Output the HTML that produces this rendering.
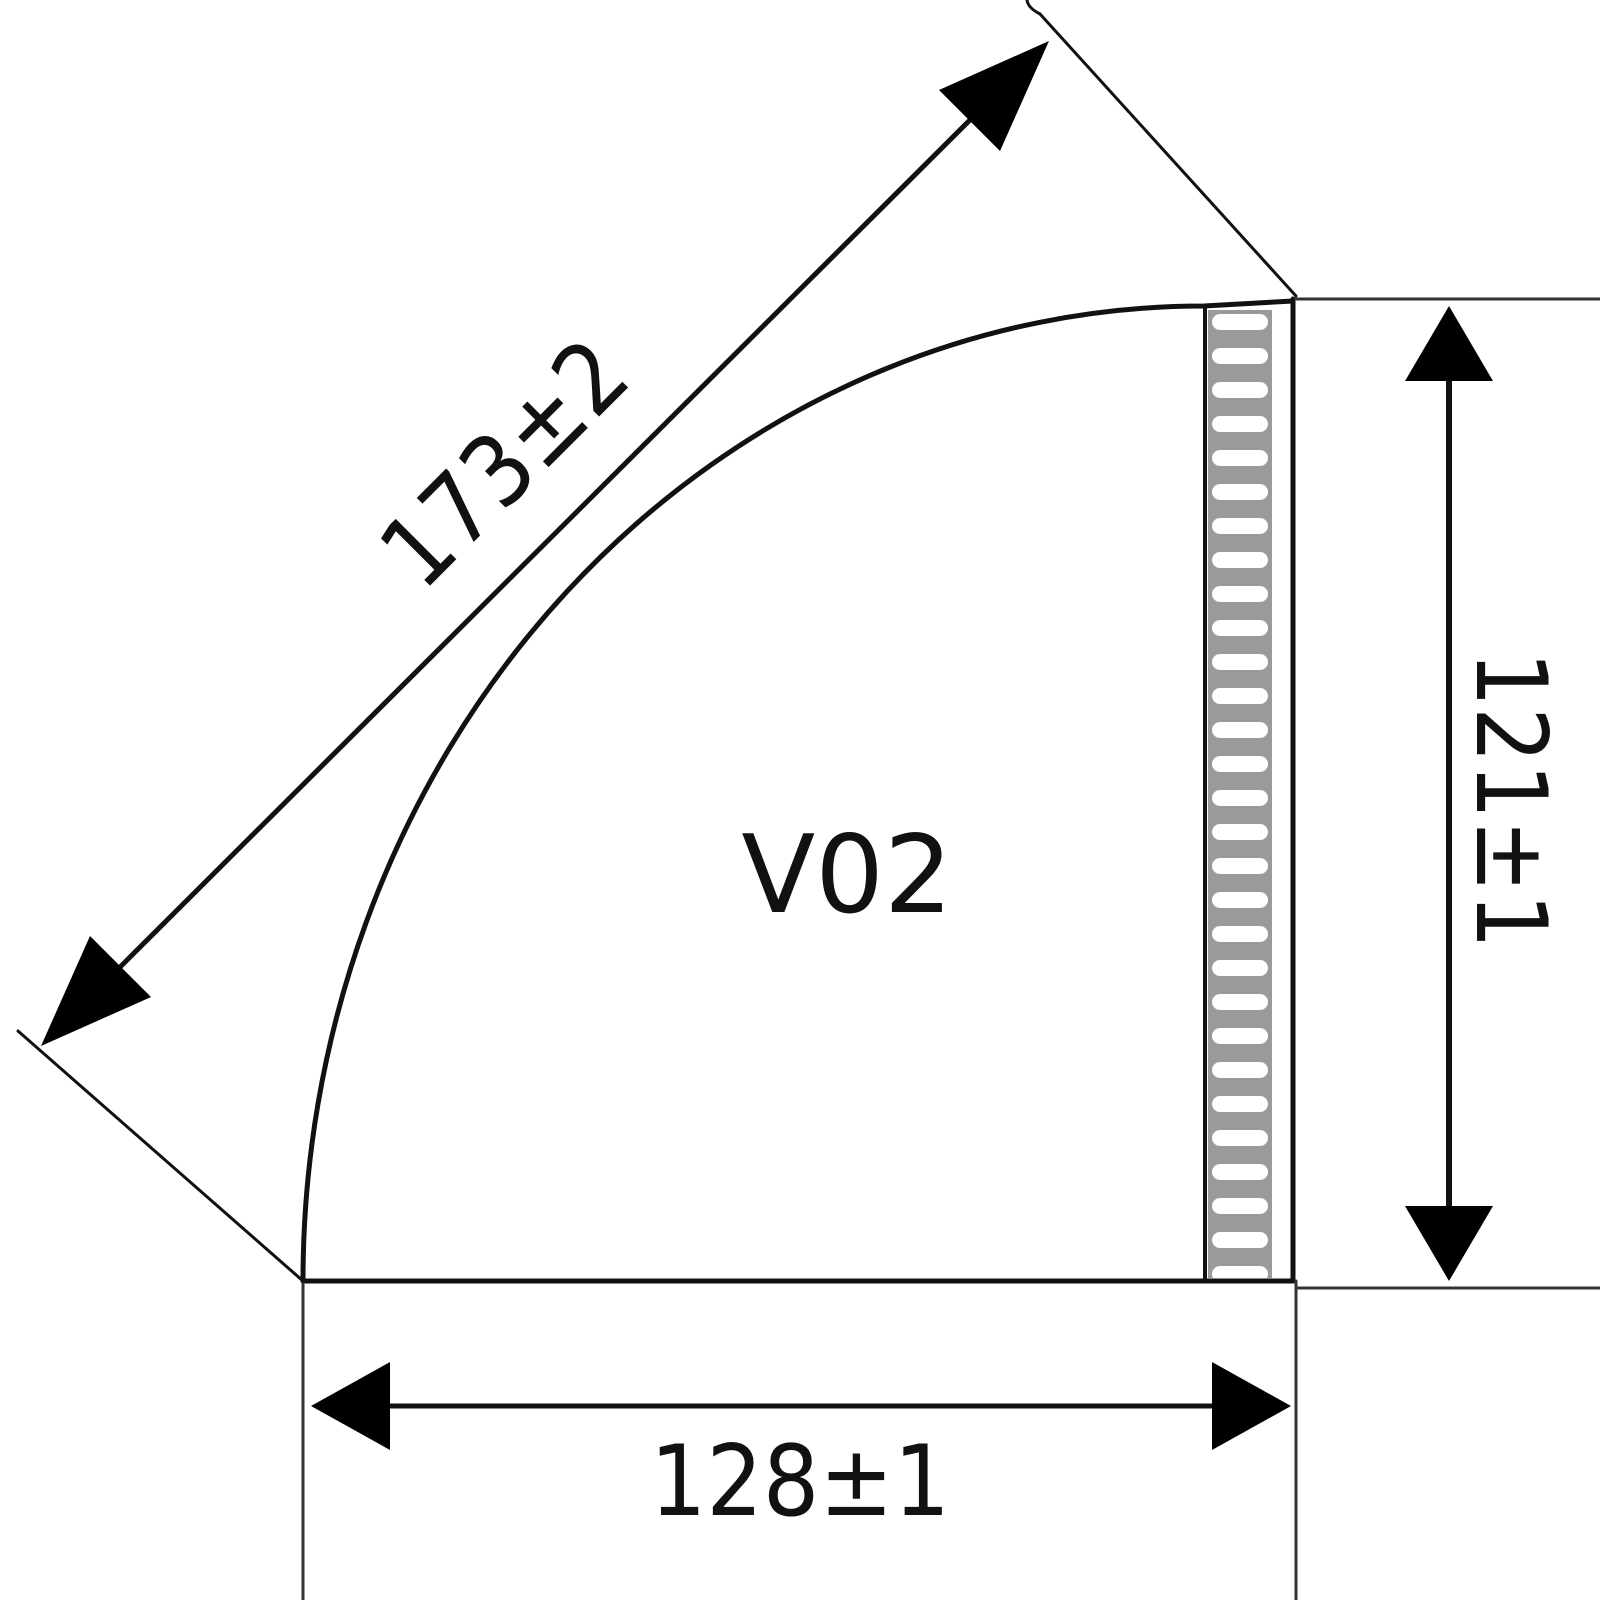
<!DOCTYPE html>
<html><head><style>
html,body{margin:0;padding:0;background:#fff;}
svg{display:block;}
text{font-family:"DejaVu Sans","Liberation Sans",sans-serif;fill:#111;font-weight:normal;}
</style></head><body>
<svg width="1600" height="1600" viewBox="0 0 1600 1600" xmlns="http://www.w3.org/2000/svg">
<defs>
<pattern id="lad" x="1210" y="306" width="62" height="34" patternUnits="userSpaceOnUse">
<rect x="0" y="0" width="62" height="34" fill="#9a9a9a"/>
<rect x="2" y="8" width="56" height="16" rx="8" fill="#fff"/>
</pattern>
</defs>
<g stroke="#111" fill="none" stroke-linecap="round">
<rect x="1208" y="310" width="64" height="968" fill="url(#lad)" stroke="none"/>
<line x1="1205" y1="306" x2="1205" y2="1281" stroke-width="4"/>
<line x1="1293" y1="299" x2="1293" y2="1281" stroke-width="5"/>
<path d="M303 1281 A901 975 0 0 1 1204 306 L1293 301" stroke-width="5"/>
<line x1="303" y1="1281" x2="1293" y2="1281" stroke-width="5"/>
<line x1="303" y1="1281" x2="303" y2="1600" stroke-width="3" stroke="#333"/>
<line x1="1296" y1="1281" x2="1296" y2="1600" stroke-width="3" stroke="#333"/>
<line x1="1296" y1="299" x2="1600" y2="299" stroke-width="3" stroke="#333"/>
<line x1="1296" y1="1288" x2="1600" y2="1288" stroke-width="3" stroke="#333"/>
<line x1="303" y1="1281" x2="18" y2="1031" stroke-width="3"/>
<line x1="1296" y1="296" x2="1040" y2="14" stroke-width="3"/>
<path d="M1040 14 Q1028 8 1027 0" stroke-width="3"/>
<line x1="100" y1="987" x2="990" y2="100" stroke-width="5"/>
<line x1="1449" y1="360" x2="1449" y2="1230" stroke-width="6"/>
<line x1="360" y1="1406" x2="1240" y2="1406" stroke-width="5"/>
</g>
<g fill="#000">
<polygon points="1049,41 1000,151 939,90"/>
<polygon points="41,1046 90,936 151,997"/>
<polygon points="1449,306 1493,381 1405,381"/>
<polygon points="1449,1281 1493,1206 1405,1206"/>
<polygon points="311,1406 390,1362 390,1450"/>
<polygon points="1291,1406 1212,1362 1212,1450"/>
</g>
<text x="800" y="1515" font-size="98" text-anchor="middle" textLength="300" lengthAdjust="spacingAndGlyphs">128±1</text>
<text x="847" y="912" font-size="108" text-anchor="middle">V02</text>
<text transform="translate(1510,800) rotate(90)" font-size="98" text-anchor="middle" dominant-baseline="central" textLength="298" lengthAdjust="spacingAndGlyphs">121±1</text>
<text transform="translate(505,464) rotate(-45)" font-size="98" text-anchor="middle" dominant-baseline="central" textLength="300" lengthAdjust="spacingAndGlyphs">173±2</text>
</svg>
</body></html>
